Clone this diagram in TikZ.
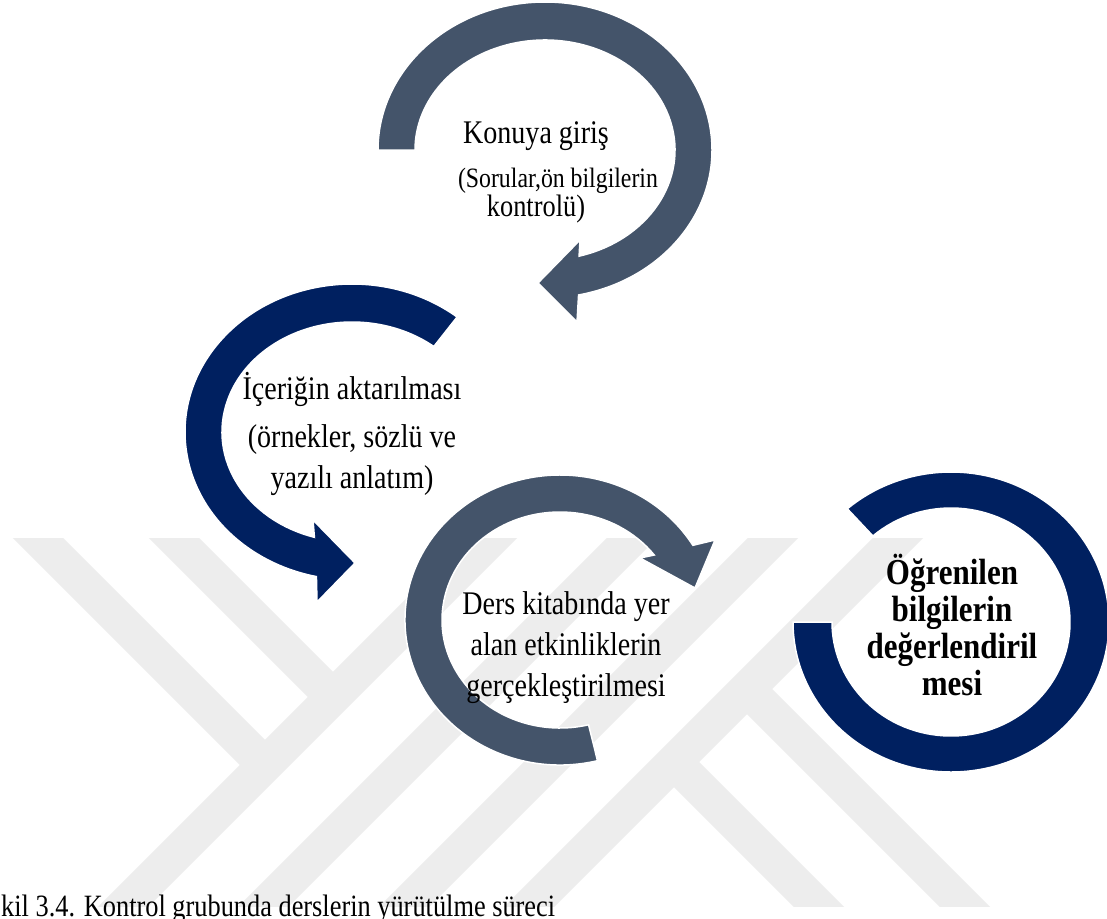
\documentclass[tikz,border=0pt]{standalone}
\usepackage{fontspec}
\setmainfont{Liberation Serif}[FakeStretch=0.85]
\usetikzlibrary{calc}
\definecolor{slate}{HTML}{44546A}
\definecolor{navy}{HTML}{002060}
\definecolor{wmgray}{HTML}{EDEDED}
\begin{document}
\begin{tikzpicture}[x=1pt,y=-1pt,
  slatering/.style={fill=slate, draw=white, line width=1.5pt},
  navyring/.style={fill=navy, draw=white, line width=1.5pt},
  stripe/.style={draw=wmgray, line width=35.4pt, line cap=butt, line join=miter},
  steptext/.style={align=center, inner sep=0pt, text=black, anchor=base},
]
\useasboundingbox (0,0) rectangle (1107,918);
\fill[white] (0,0) rectangle (1107,918);

% faint striped emblem in the background
\begin{scope}
  \clip (0,538) rectangle (1107,906);
  \draw[stripe] (70,960) -- (550,480);
  \draw[stripe] (210,960) -- (690,480);
  \draw[stripe] (351,960) -- (831,480);
  \draw[stripe] (476,960) -- (956,480);
  \draw[stripe] (-20,480) -- (265,765);
  \draw[stripe] (116,480) -- (333,697);
  \draw[stripe] (674,762) -- (872,960);
  \draw[stripe] (747,689) -- (1018,960);
\end{scope}

% centres of the four rings
\coordinate (c1) at (545,150);
\coordinate (c2) at (352,432);
\coordinate (c3) at (560,620);
\coordinate (c4) at (951,622);

% step 1: grey circular arrow, head pointing left
\path[slatering] ($(c1)+(180:167 and 148)$)
  arc[start angle=180, end angle=438.4, x radius=167, y radius=148]
  -- (577,322) -- (538,283) -- (580,240)
  -- ($(c1)+(434.8:130 and 110)$)
  arc[start angle=434.8, end angle=180, x radius=130, y radius=110] -- cycle;

% step 2: navy circular arrow, head pointing right
\path[navyring] ($(c2)+(309:167 and 148)$)
  arc[start angle=309, end angle=102.3, x radius=167, y radius=148]
  -- (317,602) -- (355,563) -- (313,520)
  -- ($(c2)+(106.8:130 and 110)$)
  arc[start angle=106.8, end angle=309, x radius=130, y radius=110] -- cycle;

% step 3: grey circular arrow, head pointing down-right
\path[slatering] ($(c3)+(76:155 and 145)$)
  arc[start angle=76, end angle=329, x radius=155, y radius=145]
  -- (715,540) -- (695,588) -- (640,558)
  -- ($(c3)+(323:118 and 108)$)
  arc[start angle=323, end angle=76, x radius=118, y radius=108] -- cycle;

% step 4: navy open ring
\path[navyring] ($(c4)+(180:158 and 150)$)
  arc[start angle=180, end angle=-131, x radius=158, y radius=150]
  -- ($(c4)+(-131:119 and 114)$)
  arc[start angle=-131, end angle=180, x radius=119, y radius=114] -- cycle;

% step texts (each node sits on the baseline of its last line)
\node[steptext, font=\fontsize{33}{27}\selectfont] (t1) at (536,216)
  {Konuya giriş\\[17pt]\hspace*{44pt}{\fontsize{28}{27}\selectfont (Sorular,ön bilgilerin}\\{\fontsize{31}{27}\selectfont kontrolü)}};
\node[steptext, font=\fontsize{33}{41}\selectfont] (t2) at (352,488)
  {İçeriğin aktarılması\\[7pt](örnekler, sözlü ve\\yazılı anlatım)};
\node[steptext, font=\fontsize{33}{41}\selectfont] (t3) at (566,696)
  {Ders kitabında yer\\alan etkinliklerin\\gerçekleştirilmesi};
\node[steptext, font=\bfseries\fontsize{36.5}{37}\selectfont] (t4) at (952,695)
  {Öğrenilen\\bilgilerin\\değerlendiril\\mesi};

% caption
\node[anchor=base west, inner sep=0pt, font=\fontsize{31}{34}\selectfont] (cap) at (1,916)
  {kil 3.4. Kontrol grubunda derslerin yürütülme süreci};
\end{tikzpicture}
\end{document}
